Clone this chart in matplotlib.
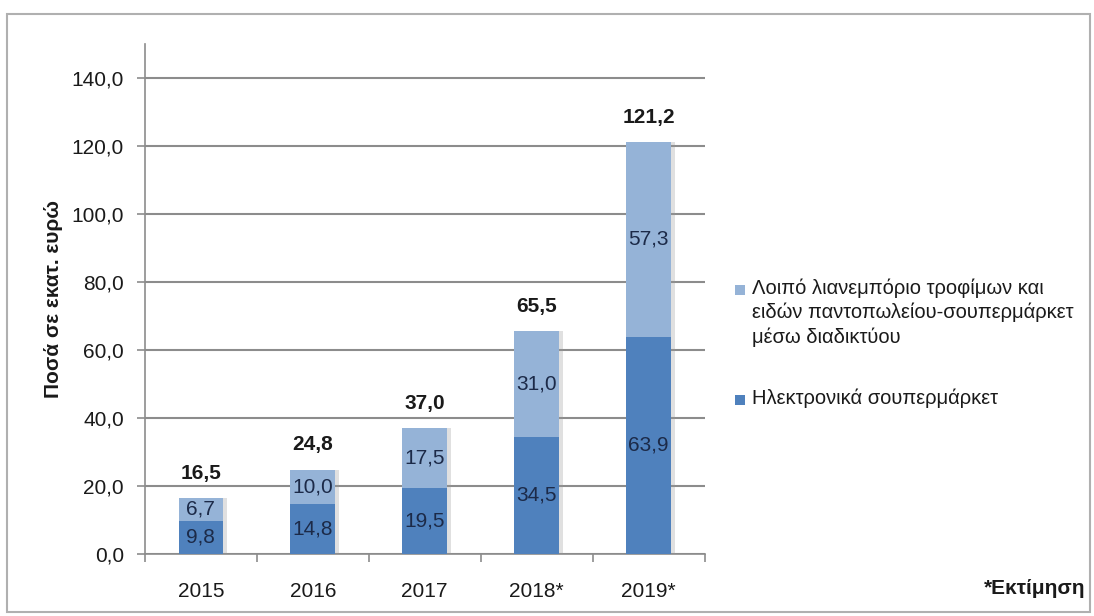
import matplotlib

matplotlib.use("Agg")
import matplotlib.pyplot as plt
import matplotlib.patheffects as pe
from matplotlib.patches import Rectangle
import numpy as np

plt.rcParams["font.family"] = ["Liberation Sans", "DejaVu Sans"]

years = ["2015", "2016", "2017", "2018*", "2019*"]
supermarkets = [9.8, 14.8, 19.5, 34.5, 63.9]
other_retail = [6.7, 10.0, 17.5, 31.0, 57.3]
totals = [16.5, 24.8, 37.0, 65.5, 121.2]

label_other = "Λοιπό λιανεμπόριο τροφίμων και\nειδών παντοπωλείου-σουπερμάρκετ\nμέσω διαδικτύου"
label_super = "Ηλεκτρονικά σουπερμάρκετ"

DARK = "#4f81bd"
LIGHT = "#95b3d7"
NAVY = "#1c2a48"
GRID = "#8c8c8c"
INK = "#1a1a1a"


def fmt(v):
    return f"{v:.1f}".replace(".", ",")


fig = plt.figure(figsize=(10.94, 6.16), dpi=100)
ax = fig.add_axes([0.1325, 0.1006, 0.5115, 0.828])

x = np.arange(len(years))
w = 0.4
shadow = [pe.withSimplePatchShadow(offset=(3, 0), shadow_rgbFace="#999999", alpha=0.3)]
ax.bar(x, supermarkets, w, color=DARK, zorder=3, path_effects=shadow)
ax.bar(x, other_retail, w, bottom=supermarkets, color=LIGHT, zorder=3,
       path_effects=shadow)

for i in x:
    ax.text(i, supermarkets[i] / 2, fmt(supermarkets[i]), ha="center", va="center",
            fontsize=15, color=NAVY, zorder=4)
    ax.text(i, supermarkets[i] + other_retail[i] / 2, fmt(other_retail[i]),
            ha="center", va="center", fontsize=15, color=NAVY, zorder=4)
    ax.annotate(fmt(totals[i]), (i, totals[i]), xytext=(0, 11), textcoords="offset points",
                ha="center", va="bottom", fontsize=15, weight="bold", color=INK)

ax.set_xlim(-0.5, len(years) - 0.5)
ax.set_ylim(0, 150)
ax.set_yticks(np.arange(0, 141, 20))
ax.set_yticklabels([fmt(v) for v in np.arange(0, 141, 20)])
ax.set_xticks(x)
ax.set_xticklabels(years)
ax.set_xticks(np.arange(-0.5, len(years), 1), minor=True)
ax.tick_params(axis="x", which="major", length=0, pad=20, labelsize=15, labelcolor=INK)
ax.tick_params(axis="x", which="minor", length=6, color=GRID, width=1.2)
ax.tick_params(axis="y", length=6, color=GRID, width=1.2, pad=9, labelsize=15,
               labelcolor=INK)
ax.grid(axis="y", color=GRID, linewidth=1.5, zorder=0)
for s in ("top", "right"):
    ax.spines[s].set_visible(False)
for s in ("left", "bottom"):
    ax.spines[s].set_color(GRID)
    ax.spines[s].set_linewidth(1.2)

ax.set_ylabel("Ποσά σε εκατ. ευρώ", fontsize=15, weight="bold", color=INK, labelpad=6)

# legend drawn by hand so the swatch sits on the first line of a wrapped label
H = 616
W = 1094
for swatch_y, color, label in [(290, LIGHT, label_other), (400, DARK, label_super)]:
    fig.add_artist(Rectangle((735 / W, 1 - (swatch_y + 5) / H), 10 / W, 10 / H,
                             transform=fig.transFigure, facecolor=color,
                             edgecolor="none"))
    fig.text(752 / W, 1 - (swatch_y - 12) / H, label, ha="left", va="top",
             fontsize=14.5, color=INK, linespacing=1.35)

fig.text(0.992, 0.045, "*Εκτίμηση", ha="right", va="center", fontsize=15,
         weight="bold", color=INK)

# outer frame
fig.add_artist(Rectangle((0.0065, 0.006), 0.99, 0.971, transform=fig.transFigure,
                         fill=False, edgecolor="#b0b0b0", linewidth=1.5))

fig.savefig("out.png", dpi=100)
